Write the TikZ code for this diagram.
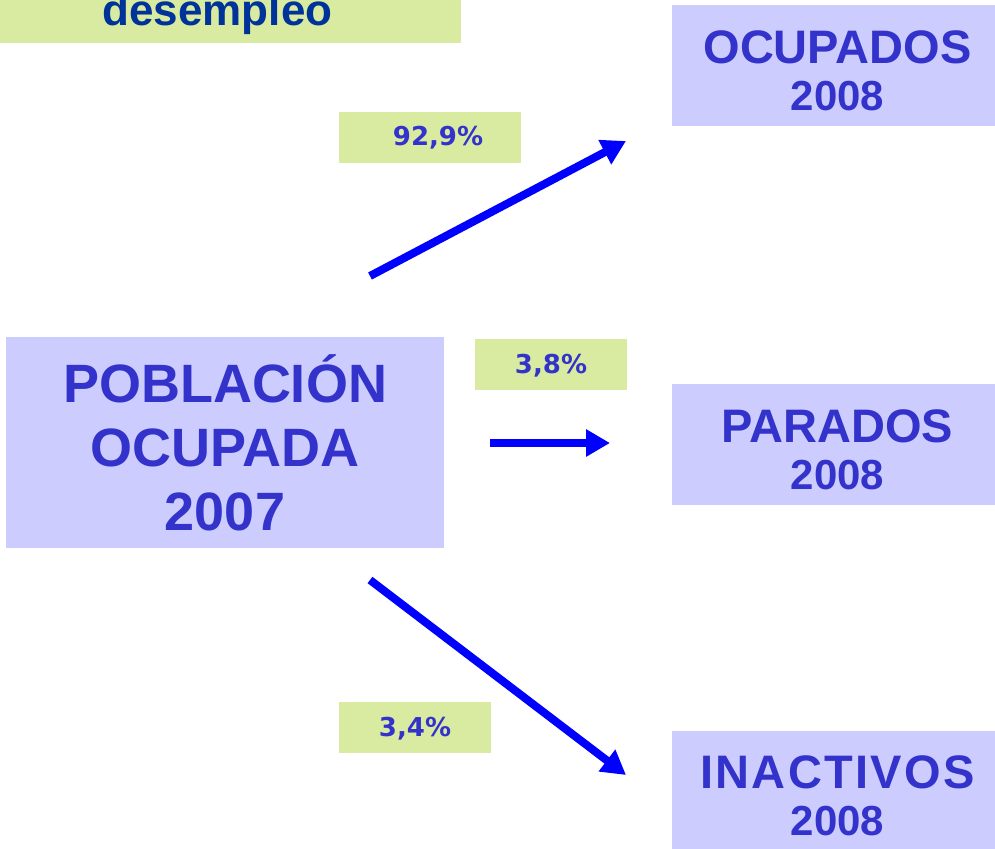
\documentclass[tikz,border=0pt]{standalone}
\usepackage{fontspec}
\setmainfont{Liberation Sans}
\newfontfamily\pctfont{DejaVu Sans}
\usetikzlibrary{arrows.meta}
\definecolor{boxblue}{RGB}{204,204,255}
\definecolor{boxgreen}{RGB}{217,235,160}
\definecolor{txtblue}{RGB}{51,51,204}
\definecolor{darkblue}{RGB}{0,51,153}
\definecolor{arrowblue}{RGB}{0,0,255}
\newcommand{\yearfont}{\fontsize{42}{47}\selectfont}
\tikzset{
    base_box/.style={rectangle, inner sep=0pt, outer sep=0pt},
    blue_box/.style={base_box, fill=boxblue, minimum width=323pt, minimum height=121pt},
    box_text/.style={text=txtblue, align=center, inner sep=0pt,
                     font=\bfseries\fontsize{47}{47}\selectfont},
    green_box/.style={base_box, fill=boxgreen, minimum height=51pt, text=txtblue,
                      text height=19pt, text depth=2pt,
                      font=\pctfont\bfseries\fontsize{26}{26}\selectfont},
    flow_arrow/.style={-{Triangle[length=24pt,width=26pt]}, line width=8pt, draw=arrowblue}
}
\begin{document}
\begin{tikzpicture}[x=1pt, y=-1pt]
    \useasboundingbox (0,0) rectangle (995,848);
    % title strip, cut off at the top
    \node[base_box, fill=boxgreen, minimum width=461pt, minimum height=90pt] (tasa_box) at (230.5,-2) {};
    \node[anchor=base, text=darkblue, font=\bfseries\fontsize{44}{44}\selectfont] (tasa_txt) at (217.5,26) {desempleo};
    % boxes
    \node[base_box, fill=boxblue, minimum width=438pt, minimum height=211pt,
          text=txtblue, align=center,
          font=\bfseries\fontsize{54}{64}\selectfont] (pob) at (225,442.5) {POBLACIÓN\\OCUPADA\\2007};
    \node[blue_box] (ocu) at (833.5,65.5) {};
    \node[blue_box] (par) at (833.5,444.5) {};
    \node[blue_box] (ina) at (833.5,791.5) {};
    \node[box_text] (ocu_txt) at ([xshift=4pt, yshift=-5pt]ocu.center)
        {OCUPADOS\\{\yearfont 2008}};
    \node[box_text] (par_txt) at ([xshift=4pt, yshift=-5pt]par.center)
        {PARADOS\\{\yearfont 2008}};
    \node[box_text] (ina_txt) at ([xshift=4pt, yshift=-4pt]ina.center)
        {{\addfontfeature{LetterSpace=5}INACTIVOS}\\{\yearfont 2008}};
    % percentages
    \node[green_box, minimum width=182pt] (pct_ocu) at (430,137.5) {\hspace*{16pt}92,9\%};
    \node[green_box, minimum width=152pt] (pct_par) at (551,364.5) {3,8\%};
    \node[green_box, minimum width=152pt] (pct_ina) at (415,727.5) {3,4\%};
    % arrow ends
    \coordinate (pob_up) at (370,276);
    \coordinate (pob_mid) at (490,443);
    \coordinate (pob_down) at (370,580);
    \coordinate (ocu_in) at (626,141);
    \coordinate (par_in) at (610,443);
    \coordinate (ina_in) at (626,775);
    \draw[flow_arrow] (pob_up) -- (ocu_in);
    \draw[flow_arrow] (pob_mid) -- (par_in);
    \draw[flow_arrow] (pob_down) -- (ina_in);
\end{tikzpicture}
\end{document}
